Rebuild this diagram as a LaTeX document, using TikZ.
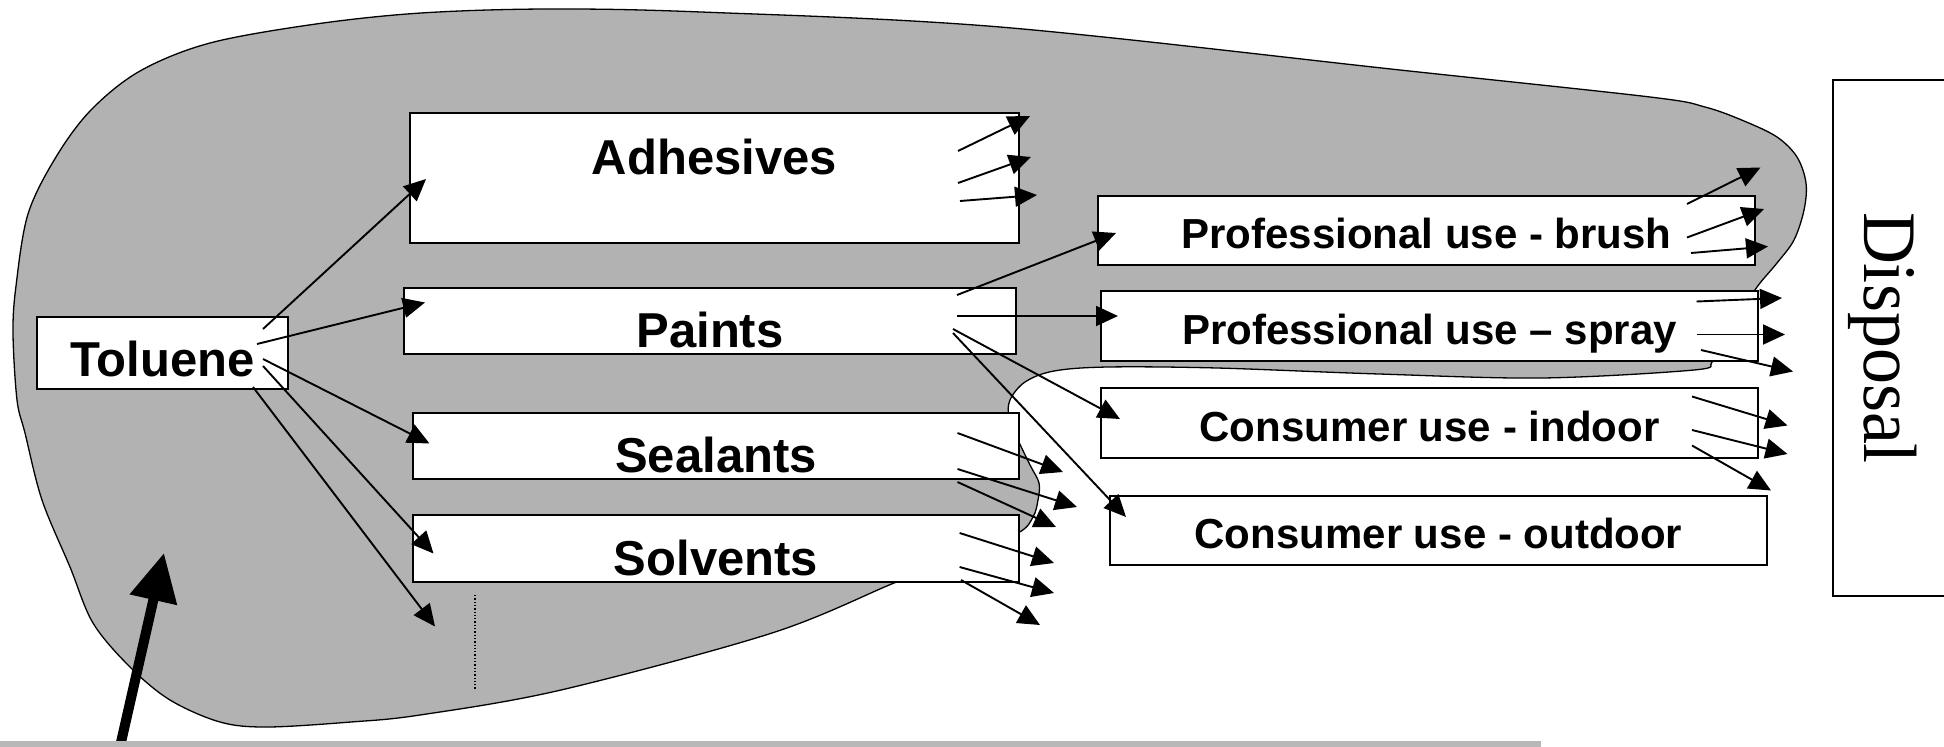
\documentclass[tikz,border=0pt]{standalone}
\usepackage{fontspec}
\usepackage{graphicx}
\usetikzlibrary{arrows.meta}
\newfontfamily\boxfont{Liberation Sans}
\newfontfamily\dispfont{Liberation Serif}
\definecolor{blobgray}{RGB}{178,178,178}
\definecolor{bargray}{RGB}{184,184,184}
\tikzset{
    box/.style={draw, fill=white, line width=2pt, inner sep=0pt,
        font=\boxfont\bfseries\fontsize{49}{55}\selectfont,
        text height=53pt, text depth=0pt},
    subbox/.style={box, font=\boxfont\bfseries\fontsize{42}{48}\selectfont,
        text height=36pt},
    arr/.style={line width=1.9pt, -{Triangle[length=22pt,width=20pt]}},
    bigarr/.style={line width=10pt, -{Triangle[length=48pt,width=46pt]}},
}

\begin{document}
\begin{tikzpicture}[x=1pt,y=-1pt]
		\useasboundingbox (0,0) rectangle (1944,747);
		\clip (0,0) rectangle (1944,747);
		% grey region
		\draw[line width=1.3pt, fill=blobgray] plot[smooth cycle, tension=0.55] coordinates {
			(13,333) (16,286) (28,214) (56,157) (91,110) (140,71) (210,43) (316,24)
			(421,13) (547,9) (701,12) (1000,27) (1400,70) (1650,97) (1705,107)
			(1744,121) (1777,137) (1797,157) (1806,183) (1804,210) (1794,240)
			(1777,263) (1757,287) (1740,315) (1725,345) (1712,362)
			(1694,370) (1542,378) (1379,374) (1217,368) (1108,367) (1054,371)
			(1025,382) (1010,400) (1009,418) (1018,440) (1030,465) (1039,483)
			(1038,500) (1033,517) (1018,533) (960,557) (894,583) (772,633)
			(561,690) (420,715) (351,722) (267,727) (220,722) (170,700) (130,667)
			(93,623) (70,567) (42,500) (25,433) (17,400)};
		\draw[dotted, line width=1.3pt] (475,595) -- (475,689);
		% boxes
		\node[box, minimum width=251pt, minimum height=72pt, text height=47pt] (tol) at (162.5,353) {Toluene};
		\node[box, minimum width=609pt, minimum height=130pt, text height=35pt, text depth=42pt] (adh) at (714.5,178) {Adhesives};
		\node[box, minimum width=612pt, minimum height=66pt] (pai) at (710,321) {Paints};
		\node[box, minimum width=606pt, minimum height=66pt] (sea) at (716,446) {Sealants};
		\node[box, minimum width=606pt, minimum height=67pt] (sol) at (716,548.5) {Solvents};
		\node[subbox, minimum width=657pt, minimum height=69pt] (brush) at (1426.5,230.5) {Professional use - brush};
		\node[subbox, minimum width=657pt, minimum height=70pt] (spray) at (1429.5,326) {Professional use – spray};
		\node[subbox, minimum width=657pt, minimum height=70pt] (indoor) at (1429.5,423) {Consumer use - indoor};
		\node[subbox, minimum width=657pt, minimum height=69pt] (outdoor) at (1438.5,530.5) {Consumer use - outdoor};
		\node[draw, fill=white, line width=2pt, rotate=-90, inner sep=0pt, minimum width=516pt, minimum height=112pt,
			text height=50pt, text depth=0pt,
			font=\dispfont\fontsize{72}{80}\selectfont] (disp) at (1889,338) {\scalebox{1}[1.05]{Disposal}};
		% from toluene
		\draw[arr] ([shift={(100.5,-24)}]tol.center) -- ([shift={(-288.5,1)}]adh.center);
		\draw[arr] ([shift={(94.5,-9)}]tol.center) -- ([shift={(-285,-18.5)}]pai.center);
		\draw[arr] ([shift={(100.5,6)}]tol.center) -- ([shift={(-286.5,-2.5)}]sea.center);
		\draw[arr] ([shift={(100.5,13)}]tol.center) -- ([shift={(-282.5,5)}]sol.center);
		\draw[arr] ([shift={(90.5,34)}]tol.center) -- ([shift={(-281,78)}]sol.center);
		% from paints
		\draw[arr] ([shift={(247,-26)}]pai.center) -- ([shift={(-310.5,2.5)}]brush.center);
		\draw[arr] ([shift={(247,-5)}]pai.center) -- ([shift={(-311.5,-10)}]spray.center);
		\draw[arr] ([shift={(243,8)}]pai.center) -- ([shift={(-309.5,-4)}]indoor.center);
		\draw[arr] ([shift={(243,12)}]pai.center) -- ([shift={(-312.5,-13.5)}]outdoor.center);
		% releases
		\draw[arr] ([shift={(243.5,-27)}]adh.center) -- ([shift={(315.5,-62)}]adh.center);
		\draw[arr] ([shift={(243.5,5)}]adh.center) -- ([shift={(316.5,-21)}]adh.center);
		\draw[arr] ([shift={(245.5,23)}]adh.center) -- ([shift={(322.5,17)}]adh.center);
		\draw[arr] ([shift={(241.5,-13)}]sea.center) -- ([shift={(347,26)}]sea.center);
		\draw[arr] ([shift={(241.5,23)}]sea.center) -- ([shift={(361,61)}]sea.center);
		\draw[arr] ([shift={(241.5,36)}]sea.center) -- ([shift={(340,81)}]sea.center);
		\draw[arr] ([shift={(243.6,-15.5)}]sol.center) -- ([shift={(338,14.5)}]sol.center);
		\draw[arr] ([shift={(243.6,18.5)}]sol.center) -- ([shift={(338,44.5)}]sol.center);
		\draw[arr] ([shift={(245,31.5)}]sol.center) -- ([shift={(324,76.5)}]sol.center);
		\draw[arr] ([shift={(260.5,-26.5)}]brush.center) -- ([shift={(334,-63)}]brush.center);
		\draw[arr] ([shift={(260.5,7)}]brush.center) -- ([shift={(337.5,-21.5)}]brush.center);
		\draw[arr] ([shift={(264.5,22.5)}]brush.center) -- ([shift={(341.5,16)}]brush.center);
		\draw[arr] ([shift={(267,-24.5)}]spray.center) -- ([shift={(352.5,-28)}]spray.center);
		\draw[arr] ([shift={(267,8.5)}]spray.center) -- ([shift={(355.5,8.5)}]spray.center);
		\draw[arr] ([shift={(271.5,24)}]spray.center) -- ([shift={(363.5,45.5)}]spray.center);
		\draw[arr] ([shift={(262.5,-26.5)}]indoor.center) -- ([shift={(358,2.5)}]indoor.center);
		\draw[arr] ([shift={(262.5,7)}]indoor.center) -- ([shift={(358,31)}]indoor.center);
		\draw[arr] ([shift={(262.5,22.5)}]indoor.center) -- ([shift={(341.5,67.5)}]indoor.center);
		% thick arrow from below
		\coordinate (src) at (117,760);
		\coordinate (blobpt) at (164,553);
		\draw[bigarr] (src) -- (blobpt);
		\fill[bargray] (0,741) rectangle (1541,747);
	\end{tikzpicture}
\end{document}
